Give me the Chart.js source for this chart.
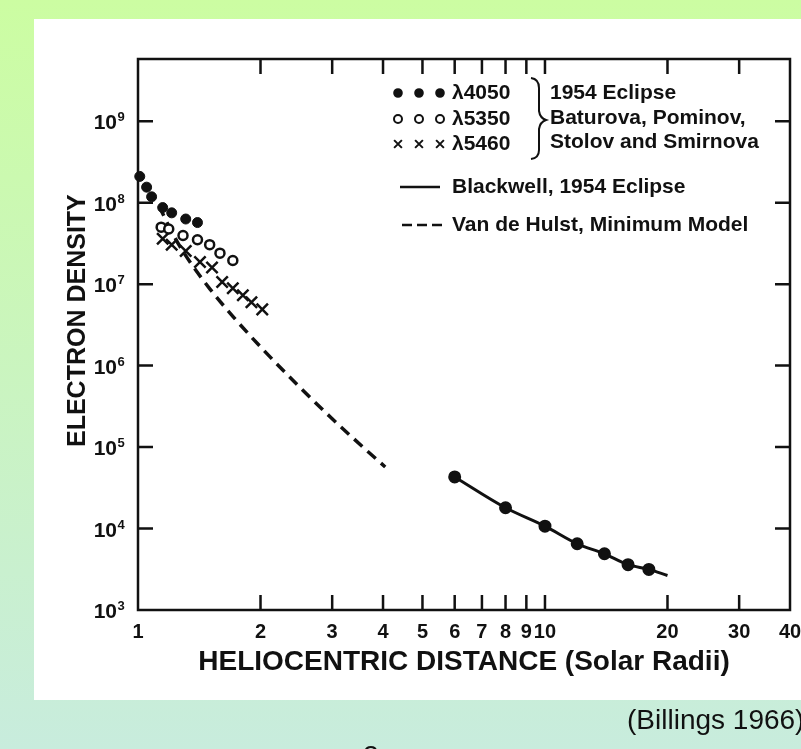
<!DOCTYPE html>
<html>
<head>
<meta charset="utf-8">
<script src="https://cdn.jsdelivr.net/npm/chart.js@4.4.1/dist/chart.umd.min.js"></script>
<style>
  html, body { margin: 0; padding: 0; }
  body {
    width: 801px; height: 749px; overflow: hidden; position: relative;
    background: linear-gradient(to bottom, #ccfda2 0%, #c8ecdd 100%);
  }
  #sheet { position: absolute; left: 34px; top: 19px; width: 800px; height: 681px; background: #fff; }
  #chart { position: absolute; left: 0; top: 0; }
  #cite {
    position: absolute; left: 627px; top: 704px; white-space: nowrap;
    font: 28px "Liberation Sans", Arial, sans-serif; color: #111;
  }
  #pageno {
    position: absolute; left: 363px; top: 740px;
    font: 28px "Liberation Sans", Arial, sans-serif; color: #111;
  }
</style>
</head>
<body>
<div id="sheet"></div>
<canvas id="chart" width="830" height="749"></canvas>
<div id="cite">(Billings 1966)</div>
<div id="pageno">2</div>
<script>
// Baturova, Pominov, Stolov and Smirnova - 1954 eclipse, three wavelengths
const r4050 = [1.01, 1.05, 1.08, 1.15, 1.21, 1.31, 1.40];
const n4050 = [2.1e8, 1.55e8, 1.18e8, 8.7e7, 7.5e7, 6.3e7, 5.7e7];
const r5350 = [1.14, 1.19, 1.29, 1.40, 1.50, 1.59, 1.71];
const n5350 = [5.0e7, 4.75e7, 3.95e7, 3.5e7, 3.05e7, 2.4e7, 1.95e7];
const r5460 = [1.15, 1.21, 1.31, 1.42, 1.52, 1.61, 1.71, 1.81, 1.90, 2.02];
const n5460 = [3.6e7, 3.05e7, 2.55e7, 1.87e7, 1.6e7, 1.06e7, 8.9e6, 7.3e6, 6.0e6, 4.9e6];
// Blackwell, 1954 eclipse (the curve runs on to 20 without a dot)
const rBlackwell = [6, 8, 10, 12, 14, 16, 18, 20];
const nBlackwell = [4.3e4, 1.8e4, 1.07e4, 6.5e3, 4.9e3, 3.6e3, 3.15e3, 2.65e3];
// Van de Hulst minimum model
const rHulst = [1.126, 1.233, 1.342, 1.503, 1.712, 2.03, 2.46, 2.96, 3.57, 4.05];
const nHulst = [9.1e7, 3.68e7, 1.87e7, 8.7e6, 4.0e6, 1.57e6, 5.85e5, 2.37e5, 1.0e5, 5.7e4];

const xTicks = [1, 2, 3, 4, 5, 6, 7, 8, 9, 10, 20, 30, 40];
const yTicks = [1e3, 1e4, 1e5, 1e6, 1e7, 1e8, 1e9];

const ink = '#111';
const pts = (xs, ys) => xs.map((x, i) => ({ x: x, y: ys[i] }));

// box, inward tick marks on all four sides, and the 10^n labels on the left
const frame = {
  id: 'frame',
  beforeDatasetsDraw(chart) {
    const { ctx, chartArea: a, scales: { x, y } } = chart;
    ctx.save();
    ctx.strokeStyle = ink;
    ctx.lineWidth = 2.5;
    ctx.strokeRect(a.left, a.top, a.right - a.left, a.bottom - a.top);
    ctx.beginPath();
    xTicks.forEach(v => {
      const px = x.getPixelForValue(v);
      if (px < a.left + 2 || px > a.right - 2) return;
      ctx.moveTo(px, a.bottom); ctx.lineTo(px, a.bottom - 15);
      ctx.moveTo(px, a.top); ctx.lineTo(px, a.top + 15);
    });
    yTicks.forEach(v => {
      const py = y.getPixelForValue(v);
      if (py < a.top + 2 || py > a.bottom - 2) return;
      ctx.moveTo(a.left, py); ctx.lineTo(a.left + 15, py);
      ctx.moveTo(a.right, py); ctx.lineTo(a.right - 15, py);
    });
    ctx.stroke();

    ctx.fillStyle = ink;
    ctx.textBaseline = 'alphabetic';
    const xr = a.left - 21;
    yTicks.forEach(v => {
      const py = y.getPixelForValue(v);
      ctx.font = 'bold 21px "Liberation Sans", Arial, sans-serif';
      ctx.textAlign = 'right';
      ctx.fillText('10', xr, py + 8);
      ctx.font = 'bold 13px "Liberation Sans", Arial, sans-serif';
      ctx.textAlign = 'left';
      ctx.fillText(String(Math.round(Math.log10(v))), xr + 0.5, py);
    });
    ctx.restore();
  }
};

// key in the upper right
const key = {
  id: 'key',
  afterDraw(chart) {
    const ctx = chart.ctx;
    const ds = chart.data.datasets;
    const sizes = [3.8, 4, 5.5];
    ctx.save();
    ctx.font = 'bold 21px "Liberation Sans", Arial, sans-serif';
    ctx.textBaseline = 'middle';
    const rows = [93, 119, 144];
    rows.forEach((ry, i) => {
      const d = ds[i];
      [398, 419, 440].forEach(px => {
        ctx.fillStyle = d.backgroundColor;
        ctx.strokeStyle = d.borderColor;
        ctx.lineWidth = 2;
        Chart.helpers.drawPoint(ctx, { pointStyle: d.pointStyle, radius: sizes[i], rotation: 0, borderWidth: 2 }, px, ry);
      });
      ctx.fillStyle = ink;
      ctx.fillText(d.label, 452, ry);
    });
    // brace grouping the three wavelengths
    ctx.strokeStyle = ink;
    ctx.lineWidth = 2;
    ctx.beginPath();
    ctx.moveTo(531, 78);
    ctx.quadraticCurveTo(539, 79, 539, 88);
    ctx.lineTo(539, 111);
    ctx.quadraticCurveTo(540, 118, 546, 120);
    ctx.quadraticCurveTo(540, 122, 539, 129);
    ctx.lineTo(539, 150);
    ctx.quadraticCurveTo(539, 158, 531, 159);
    ctx.stroke();
    ctx.fillStyle = ink;
    ctx.fillText('1954 Eclipse', 550, 93);
    ctx.fillText('Baturova, Pominov,', 550, 118);
    ctx.fillText('Stolov and Smirnova', 550, 142);
    // line samples
    ctx.lineWidth = 2.5;
    ctx.beginPath();
    ctx.moveTo(400, 187); ctx.lineTo(440, 187);
    ctx.stroke();
    ctx.setLineDash([10, 5]);
    ctx.beginPath();
    ctx.moveTo(402, 225); ctx.lineTo(442, 225);
    ctx.stroke();
    ctx.setLineDash([]);
    ctx.fillText(ds[3].label, 452, 187);
    ctx.fillText(ds[4].label, 452, 225);
    ctx.restore();
  }
};

const xTickFont = { family: '"Liberation Sans", Arial, sans-serif', size: 20, weight: 'bold' };

new Chart(document.getElementById('chart'), {
  type: 'scatter',
  data: {
    datasets: [
      {
        label: 'λ4050', data: pts(r4050, n4050),
        pointStyle: 'circle', pointRadius: 5, backgroundColor: ink, borderColor: ink, borderWidth: 1, clip: false
      },
      {
        label: 'λ5350', data: pts(r5350, n5350),
        pointStyle: 'circle', pointRadius: 4.5, backgroundColor: '#fff', borderColor: ink, borderWidth: 2.5, clip: false
      },
      {
        label: 'λ5460', data: pts(r5460, n5460),
        pointStyle: 'crossRot', pointRadius: 8, backgroundColor: ink, borderColor: ink, borderWidth: 2.5, clip: false
      },
      {
        label: 'Blackwell, 1954 Eclipse', data: pts(rBlackwell, nBlackwell),
        showLine: true, borderColor: ink, backgroundColor: ink, borderWidth: 3,
        pointRadius: rBlackwell.map((r, i) => i < rBlackwell.length - 1 ? 5 : 0),
        cubicInterpolationMode: 'monotone', clip: false
      },
      {
        label: 'Van de Hulst, Minimum Model', data: pts(rHulst, nHulst),
        showLine: true, borderColor: ink, backgroundColor: ink, borderWidth: 3.5,
        borderDash: [11, 7], pointRadius: 0,
        cubicInterpolationMode: 'monotone', clip: false
      }
    ]
  },
  options: {
    responsive: false,
    animation: false,
    devicePixelRatio: 1,
    layout: { padding: { top: 59, right: 40, bottom: 0, left: 0 } },
    plugins: { legend: { display: false }, tooltip: { enabled: false } },
    scales: {
      x: {
        type: 'logarithmic', min: 1, max: 40,
        grid: { display: false, drawTicks: false }, border: { display: false },
        afterBuildTicks: s => { s.ticks = xTicks.map(v => ({ value: v })); },
        afterFit: s => { s.height = 749 - 610; },
        ticks: {
          autoSkip: false, maxRotation: 0, minRotation: 0, padding: 10,
          color: ink, font: xTickFont, callback: v => String(v)
        },
        title: {
          display: true, text: 'HELIOCENTRIC DISTANCE (Solar Radii)', color: ink,
          font: { family: '"Liberation Sans", Arial, sans-serif', size: 28, weight: 'bold' },
          padding: { top: 0, bottom: 70 }
        }
      },
      y: {
        type: 'logarithmic', min: 1e3, max: 5.8e9,
        grid: { display: false, drawTicks: false }, border: { display: false },
        afterBuildTicks: s => { s.ticks = yTicks.map(v => ({ value: v })); },
        afterFit: s => { s.width = 138; },
        ticks: { display: false },
        title: {
          display: true, text: '    ELECTRON DENSITY', color: ink,
          font: { family: '"Liberation Sans", Arial, sans-serif', size: 25, weight: 'bold' },
          padding: { top: 63, bottom: 0 }
        }
      }
    }
  },
  plugins: [frame, key]
});
</script>
</body>
</html>
